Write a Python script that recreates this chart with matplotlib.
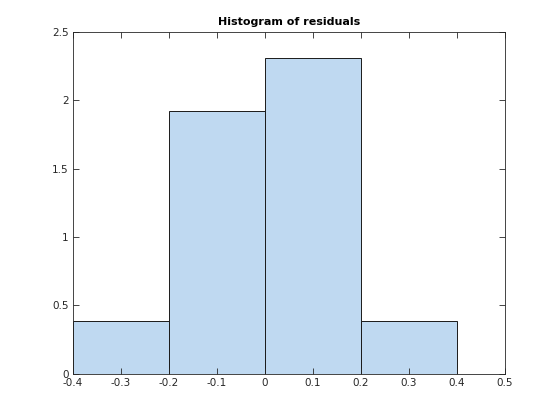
import matplotlib
matplotlib.use('Agg')
import matplotlib.pyplot as plt

# bin edges and normalized heights (pdf)
edges = [-0.4, -0.2, 0.0, 0.2, 0.4]
heights = [0.385, 1.923, 2.308, 0.385]
xticks = [-0.4, -0.3, -0.2, -0.1, 0, 0.1, 0.2, 0.3, 0.4, 0.5]
xlabels = ['-0.4', '-0.3', '-0.2', '-0.1', '0', '0.1', '0.2', '0.3', '0.4', '0.5']
yticks = [0, 0.5, 1, 1.5, 2, 2.5]
ylabels = ['0', '0.5', '1', '1.5', '2', '2.5']

plt.rcParams['font.family'] = 'DejaVu Sans'
plt.rcParams['font.size'] = 7.5

fig = plt.figure(figsize=(5.6, 4.2), dpi=100)
ax = fig.add_axes([0.13, 0.11, 0.772, 0.814])

lefts = edges[:-1]
widths = [edges[i + 1] - edges[i] for i in range(len(heights))]
ax.bar(lefts, heights, width=widths, align='edge', color='#bfd9f1',
       edgecolor='#1a1a1a', linewidth=0.7)

ax.set_xlim(-0.4, 0.5)
ax.set_ylim(0, 2.5)
ax.set_xticks(xticks)
ax.set_xticklabels(xlabels)
ax.set_yticks(yticks)
ax.set_yticklabels(ylabels)
ax.tick_params(direction='in', top=True, right=True, length=4, width=0.6,
               colors='#262626', pad=3)
for s in ax.spines.values():
    s.set_linewidth(0.6)
    s.set_color('#262626')

ax.set_title('Histogram of residuals', fontsize=8, fontweight='bold', pad=5)

fig.savefig('out.png', dpi=100)
